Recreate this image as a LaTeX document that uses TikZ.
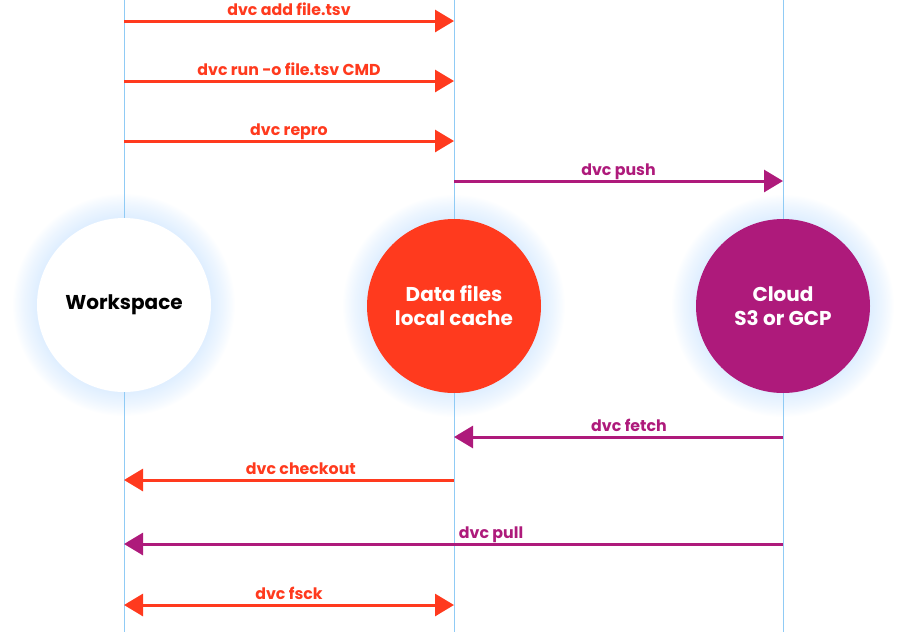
\documentclass[tikz,border=0pt]{standalone}
\usepackage{fontspec}
\setmainfont{Poppins}
\usetikzlibrary{arrows.meta,backgrounds,positioning}

\definecolor{dvcred}{HTML}{FF3A1E}
\definecolor{dvcpurple}{HTML}{AE1A7B}
\definecolor{lane}{HTML}{90CBF5}
\definecolor{glow}{HTML}{B8DAFF}

\tikzset{
        store/.style={circle, minimum size=174pt, inner sep=0pt, align=center,
                      font=\fontsize{20}{24}\selectfont\bfseries},
        cmd/.style={line width=3pt, -{Triangle[length=19pt, width=22pt]}},
        cmdlabel/.style={anchor=base, yshift=6pt, inner sep=0pt,
                         font=\fontsize{15.8}{18}\selectfont\bfseries}
}

\begin{document}
\begin{tikzpicture}[x=1pt, y=-1pt]
        \useasboundingbox (0,0) rectangle (906,632);

        % the three stores
        \node [store, fill=white, text=black] (workspace) at (124,305) {Workspace};
        \node [store, fill=dvcred, text=white] (cache) at (454,306) {Data files\\local cache};
        \node [store, fill=dvcpurple, text=white] (cloud) at (783,306) {Cloud\\S3 or GCP};

        % rows of the commands
        \coordinate (add)      at (0,21);
        \coordinate (run)      at (0,81);
        \coordinate (repro)    at (0,141);
        \coordinate (push)     at (0,181);
        \coordinate (fetch)    at (0,437);
        \coordinate (checkout) at (0,480);
        \coordinate (pull)     at (0,544);
        \coordinate (fsck)     at (0,605);
        \coordinate (top)      at (0,0);
        \coordinate (bottom)   at (0,632);

        \begin{scope}[on background layer]
                \foreach \store in {workspace, cache, cloud}
                        \foreach \r in {1,...,24}
                                \fill [glow, opacity=0.022] (\store) circle (87+\r);
                \foreach \store in {workspace, cache, cloud}
                        \draw [lane, line width=1pt] (\store |- top) -- (\store |- bottom);
        \end{scope}

        \draw [cmd, dvcred] (workspace |- add) -- (cache |- add)
               node [cmdlabel, pos=0.5, text=dvcred] {dvc add file.tsv};
        \draw [cmd, dvcred] (workspace |- run) -- (cache |- run)
               node [cmdlabel, pos=0.5, text=dvcred] {dvc run -o file.tsv CMD};
        \draw [cmd, dvcred] (workspace |- repro) -- (cache |- repro)
               node [cmdlabel, pos=0.5, text=dvcred] {dvc repro};
        \draw [cmd, dvcpurple] (cache |- push) -- (cloud |- push)
               node [cmdlabel, pos=0.5, text=dvcpurple] {dvc push};
        \draw [cmd, dvcpurple] (cloud |- fetch) -- (cache |- fetch)
               node [cmdlabel, pos=0.468, text=dvcpurple] {dvc fetch};
        \draw [cmd, dvcred] (cache |- checkout) -- (workspace |- checkout)
               node [cmdlabel, pos=0.464, text=dvcred] {dvc checkout};
        \draw [cmd, dvcpurple] (cloud |- pull) -- (workspace |- pull)
               node [cmdlabel, pos=0.443, text=dvcpurple] {dvc pull};
        \draw [cmd, dvcred, {Triangle[length=19pt, width=22pt]}-{Triangle[length=19pt, width=22pt]}]
               (workspace |- fsck) -- (cache |- fsck)
               node [cmdlabel, pos=0.5, text=dvcred] {dvc fsck};
\end{tikzpicture}
\end{document}
